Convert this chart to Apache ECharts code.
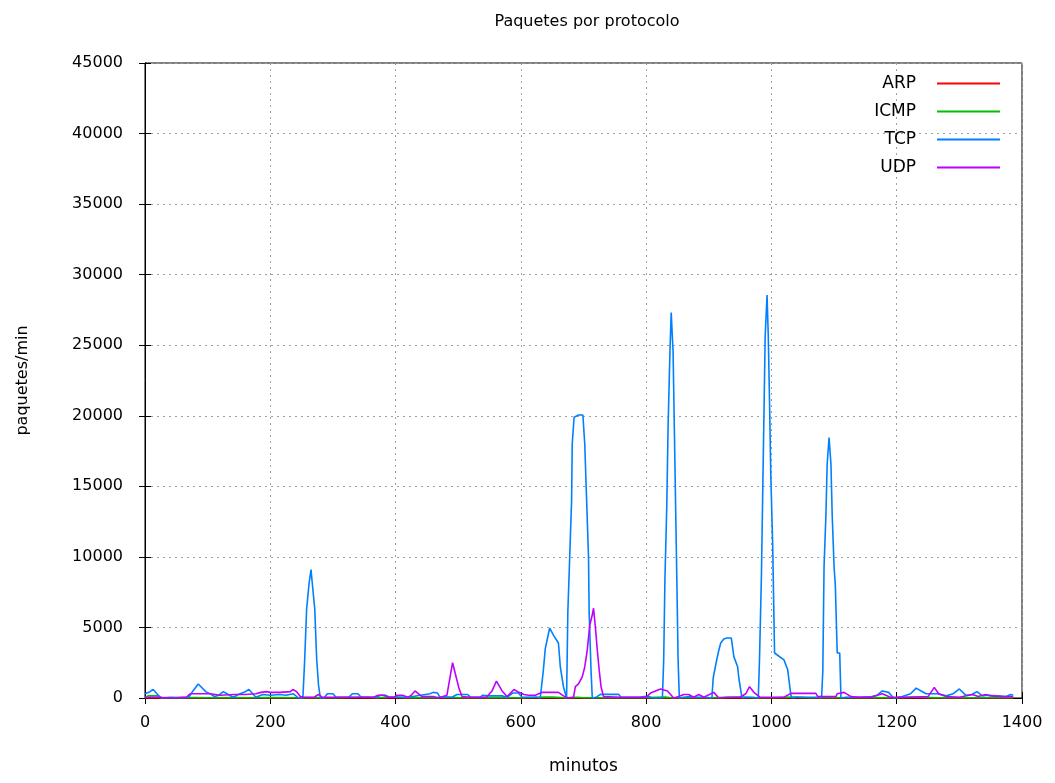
<!DOCTYPE html>
<html><head><meta charset="utf-8">
<script src="https://cdn.jsdelivr.net/npm/echarts@6/dist/echarts.min.js"></script>
<style>html,body{margin:0;padding:0;background:#fff}#c{width:1055px;height:783px}</style>
</head><body><div id="c"></div>
<script>
const seriesNames = ['ARP', 'ICMP', 'TCP', 'UDP'];
const xTicks = [0, 200, 400, 600, 800, 1000, 1200, 1400];
const yTicks = [0, 5000, 10000, 15000, 20000, 25000, 30000, 35000, 40000, 45000];

const arp = [[0,5],[200,8],[400,5],[600,6],[800,5],[1000,6],[1200,5],[1386,5]];
const icmp = [[0,40],[5,150],[21,150],[26,20],[60,20],[80,40],[100,20],[140,30],[180,20],[200,40],[240,20],[260,30],[300,20],[340,50],[356,50],[370,20],[391,60],[402,60],[420,20],[460,30],[482,60],[500,20],[540,30],[600,20],[639,60],[650,60],[670,20],[690,50],[700,20],[760,20],[800,30],[831,60],[840,20],[900,20],[946,60],[955,60],[970,20],[1000,20],[1034,60],[1042,60],[1060,20],[1100,20],[1150,30],[1200,20],[1222,60],[1243,60],[1260,20],[1300,40],[1320,20],[1386,20]];
const tcp = [[0,300],[2,330],[8,450],[13,600],[18,350],[21,200],[26,0],[40,50],[55,30],[70,50],[75,400],[85,990],[97,450],[106,250],[111,100],[118,200],[125,450],[133,250],[141,50],[149,250],[158,400],[166,600],[173,250],[177,50],[188,250],[200,200],[215,250],[225,200],[237,300],[245,0],
[252,0],[253,900],[255,2800],[258,6300],[262,8150],[265,9100],[267,8150],[271,6300],[274,2800],[277,900],[280,0],
[286,0],[291,300],[300,300],[305,50],[325,50],[331,300],[340,300],[345,50],[370,50],[376,200],[384,200],[390,50],[420,50],[455,300],[460,400],[467,350],[471,50],[490,50],[498,250],[515,250],[520,50],[535,50],[539,200],[548,150],[570,150],[578,50],[587,350],[596,350],[602,50],[625,50],[631,0],
[636,2000],[639,3500],[646,4960],[652,4460],[660,3900],[663,2200],[668,800],[673,0],
[675,6100],[678,10000],[681,14000],[682,18000],[685,19900],[688,20000],[692,20050],[699,20050],[702,18000],[705,14000],[708,10000],[709,6100],[712,2000],[714,0],
[720,50],[727,260],[756,260],[760,50],[790,50],[796,100],[804,100],[810,0],[826,0],
[828,2700],[830,8400],[833,13750],[835,19160],[838,24540],[840,27310],[843,24540],[845,19160],[847,13750],[849,8400],[851,2700],[853,0],
[860,50],[870,100],[880,50],[895,50],[905,0],
[907,1400],[911,2340],[915,3190],[919,3900],[924,4180],[929,4250],[936,4250],[940,2930],[946,2220],[948,1400],[953,0],
[960,50],[970,50],[979,0],
[981,2800],[984,8600],[986,14270],[988,19900],[990,25600],[992,25700],[993,28560],[995,25600],[997,20900],[999,15800],[1002,10840],[1005,3190],[1020,2700],[1026,2000],[1031,200],[1033,0],
[1040,50],[1060,50],[1075,50],[1080,0],
[1082,1860],[1084,9300],[1087,12970],[1089,16580],[1092,18450],[1095,16580],[1097,12970],[1100,9300],[1102,8000],[1105,3190],[1109,3190],[1111,0],
[1120,50],[1140,50],[1160,100],[1169,200],[1177,500],[1187,400],[1195,0],[1209,100],[1222,300],[1231,700],[1239,500],[1247,300],[1265,300],[1279,150],[1290,300],[1300,640],[1310,200],[1320,250],[1328,450],[1337,150],[1345,200],[1360,150],[1375,100],[1382,250],[1386,200]];
const udp = [[0,50],[20,50],[45,0],[60,50],[66,50],[72,300],[104,300],[120,200],[141,250],[160,250],[177,300],[185,400],[194,450],[200,400],[215,400],[232,450],[236,600],[242,450],[248,100],[255,50],[270,50],[277,250],[283,50],[365,50],[372,200],[381,200],[388,50],[398,50],[402,200],[411,200],[420,50],[425,200],[431,500],[442,100],[460,100],[468,0],[482,200],[491,2500],[501,730],[506,100],[520,50],[545,50],[554,500],[561,1200],[570,500],[578,100],[589,600],[597,400],[605,250],[612,200],[623,200],[634,400],[644,400],[660,400],[668,150],[675,0],[684,50],[687,800],[692,1000],[698,1500],[702,2200],[706,3400],[710,5170],[714,5880],[716,6360],[719,5010],[722,3400],[725,2000],[728,800],[732,100],[760,50],[800,50],[807,350],[823,640],[834,500],[844,0],[852,100],[860,250],[868,250],[876,50],[884,250],[892,50],[908,400],[916,0],[930,50],[950,50],[959,300],[965,800],[972,400],[982,50],[1020,50],[1031,330],[1071,330],[1074,100],[1103,100],[1105,300],[1116,400],[1127,100],[1140,50],[1160,50],[1169,200],[1177,300],[1190,50],[1220,50],[1250,100],[1260,750],[1267,300],[1279,100],[1300,50],[1321,250],[1330,100],[1342,250],[1350,150],[1370,100],[1386,100]];

const colors = ['#ff0000', '#00c000', '#0080ff', '#c000ff'];
const dataSets = [arp, icmp, tcp, udp];
const FONT = 'DejaVu Sans';
const plain = v => String(v);

const chart = echarts.init(document.getElementById('c'), null, {renderer: 'canvas'});
const gridStyle = {show: true, lineStyle: {color: '#a0a0a0', type: [2, 4], width: 1}};
const baseX = {type: 'value', min: xTicks[0], max: xTicks[xTicks.length - 1], interval: xTicks[1] - xTicks[0]};
const baseY = {type: 'value', min: yTicks[0], max: yTicks[yTicks.length - 1], interval: yTicks[1] - yTicks[0]};
chart.setOption({
  animation: false,
  backgroundColor: '#fff',
  title: {text: 'Paquetes por protocolo', left: 582, top: 9, textAlign: 'center',
    textStyle: {fontFamily: FONT, fontSize: 16, fontWeight: 'normal', color: '#000'}},
  grid: {left: 145, right: 33, top: 63, bottom: 85, show: true, borderColor: '#000', borderWidth: 1, backgroundColor: 'transparent'},
  legend: {orient: 'vertical', right: 50, top: 70, itemWidth: 63, itemHeight: 2, icon: 'rect', itemGap: 11, align: 'right',
    data: seriesNames,
    textStyle: {fontFamily: FONT, fontSize: 17, color: '#000', padding: [0, 16, 0, 0]}},
  xAxis: [
    Object.assign({}, baseX, {position: 'bottom',
      name: 'minutos', nameLocation: 'middle', nameGap: 60,
      nameTextStyle: {fontFamily: FONT, fontSize: 17, color: '#000'},
      axisLine: {show: true, lineStyle: {color: '#000', width: 1}},
      axisTick: {show: true, inside: true, length: 6, lineStyle: {color: '#000'}},
      axisLabel: {margin: 17, fontFamily: FONT, fontSize: 16, color: '#000', formatter: plain},
      splitLine: gridStyle}),
    Object.assign({}, baseX, {position: 'top',
      axisLine: {show: true, lineStyle: {color: '#000', width: 1}},
      axisTick: {show: true, inside: true, length: 6, lineStyle: {color: '#000'}},
      axisLabel: {show: false}, splitLine: {show: false}})
  ],
  yAxis: [
    Object.assign({}, baseY, {position: 'left',
      name: 'paquetes/min', nameLocation: 'middle', nameGap: 114,
      nameTextStyle: {fontFamily: FONT, fontSize: 16, color: '#000'},
      axisLine: {show: true, lineStyle: {color: '#000', width: 1}},
      axisTick: {show: true, inside: true, length: 6, lineStyle: {color: '#000'}},
      axisLabel: {margin: 22, fontFamily: FONT, fontSize: 16, color: '#000', formatter: plain},
      splitLine: gridStyle}),
    Object.assign({}, baseY, {position: 'right',
      axisLine: {show: true, lineStyle: {color: '#000', width: 1}},
      axisTick: {show: true, inside: true, length: 6, lineStyle: {color: '#000'}},
      axisLabel: {show: false}, splitLine: {show: false}})
  ],
  series: seriesNames.map((n, i) => ({
    name: n, type: 'line', data: dataSets[i], xAxisIndex: 0, yAxisIndex: 0,
    showSymbol: false, symbol: 'none', color: colors[i],
    lineStyle: {width: 1.6, color: colors[i]}, z: 2 + i
  }))
});
</script></body></html>
